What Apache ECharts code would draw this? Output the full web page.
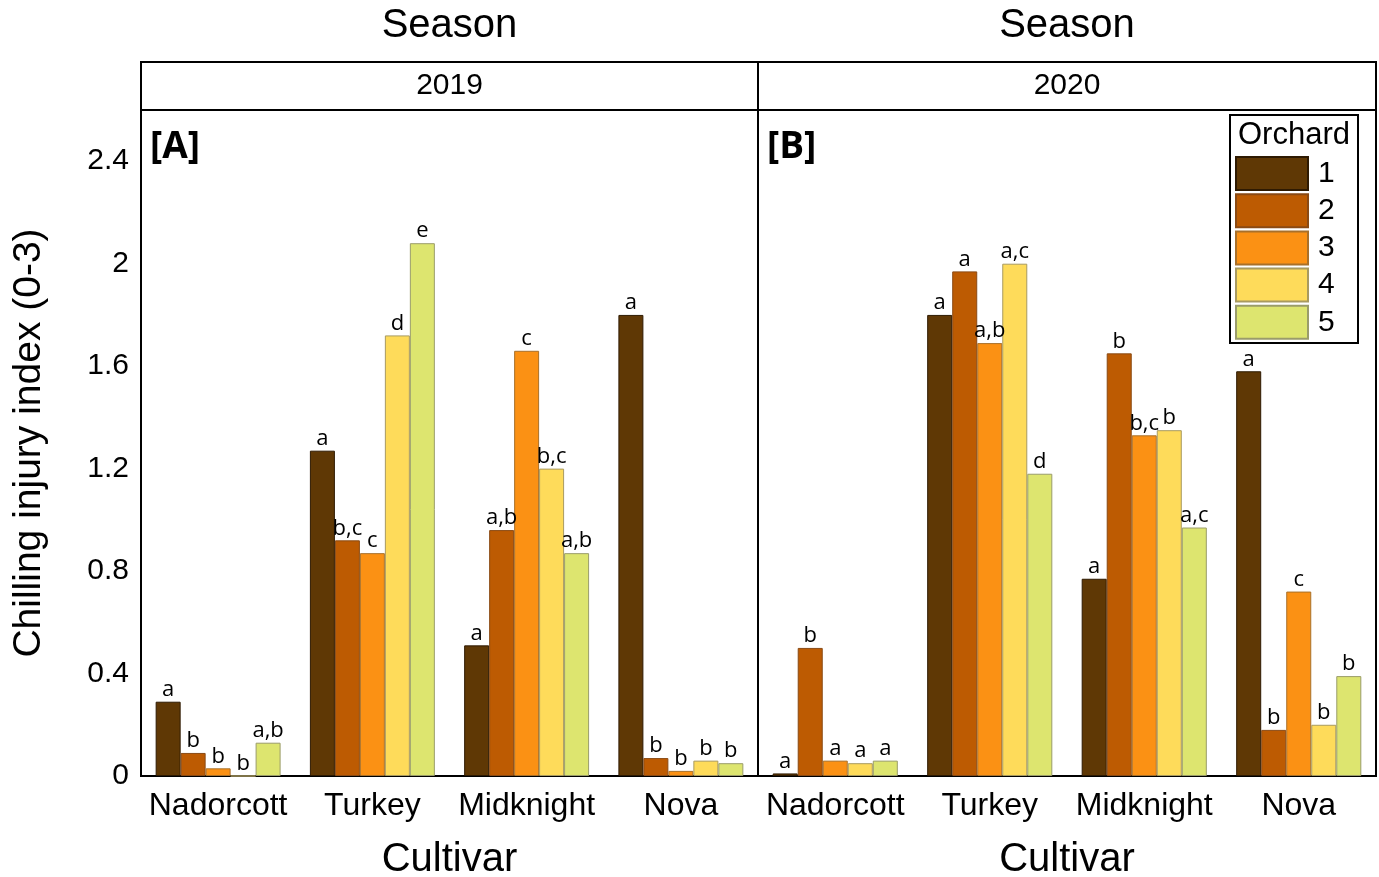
<!DOCTYPE html>
<html>
<head>
<meta charset="utf-8">
<script src="https://cdn.jsdelivr.net/npm/echarts@6/dist/echarts.min.js"></script>
<style>
  html, body { margin: 0; padding: 0; background: #fff; }
  #chart { width: 1379px; height: 877px; }
</style>
</head>
<body>
<div id="chart"></div>
<script>
// Categories
const cultivars = ['Nadorcott', 'Turkey', 'Midknight', 'Nova'];
const orchards = ['1', '2', '3', '4', '5'];
const seasons = ['2019', '2020'];
const panelTags = ['[A]', '[B]'];
const yTicks = [0, 0.4, 0.8, 1.2, 1.6, 2, 2.4];

// Chilling injury index per orchard (cultivar order as above) — season 2019
const ci2019_o1 = [0.29, 1.27, 0.51, 1.80];
const ci2019_o2 = [0.09, 0.92, 0.96, 0.07];
const ci2019_o3 = [0.03, 0.87, 1.66, 0.02];
const ci2019_o4 = [0.00, 1.72, 1.20, 0.06];
const ci2019_o5 = [0.13, 2.08, 0.87, 0.05];

// Season 2020
const ci2020_o1 = [0.01, 1.80, 0.77, 1.58];
const ci2020_o2 = [0.50, 1.97, 1.65, 0.18];
const ci2020_o3 = [0.06, 1.69, 1.33, 0.72];
const ci2020_o4 = [0.05, 2.00, 1.35, 0.20];
const ci2020_o5 = [0.06, 1.18, 0.97, 0.39];

// Significance letters above each bar
const sig2019_o1 = ['a', 'a', 'a', 'a'];
const sig2019_o2 = ['b', 'b,c', 'a,b', 'b'];
const sig2019_o3 = ['b', 'c', 'c', 'b'];
const sig2019_o4 = ['b', 'd', 'b,c', 'b'];
const sig2019_o5 = ['a,b', 'e', 'a,b', 'b'];

const sig2020_o1 = ['a', 'a', 'a', 'a'];
const sig2020_o2 = ['b', 'a', 'b', 'b'];
const sig2020_o3 = ['a', 'a,b', 'b,c', 'c'];
const sig2020_o4 = ['a', 'a,c', 'b', 'b'];
const sig2020_o5 = ['a', 'd', 'a,c', 'b'];

const values = [
  [ci2019_o1, ci2019_o2, ci2019_o3, ci2019_o4, ci2019_o5],
  [ci2020_o1, ci2020_o2, ci2020_o3, ci2020_o4, ci2020_o5]
];
const letters = [
  [sig2019_o1, sig2019_o2, sig2019_o3, sig2019_o4, sig2019_o5],
  [sig2020_o1, sig2020_o2, sig2020_o3, sig2020_o4, sig2020_o5]
];

const orchardColors = ['#5f3805', '#bd5b02', '#fb9114', '#fedb5a', '#dde56f'];
const orchardBorders = ['#2e1a02', '#8a4a14', '#a8702a', '#a89a60', '#9a9c6a'];

const sans = 'Liberation Sans, Arial, sans-serif';
const labelFont = 'Open Sans, sans-serif';

const grids = [
  { left: 141, top: 110, width: 617, height: 666 },
  { left: 758, top: 110, width: 618, height: 666 }
];

const chart = echarts.init(document.getElementById('chart'));

const xAxes = [];
const yAxes = [];
seasons.forEach((s, i) => {
  // main axis: labels and center ticks
  xAxes.push({
    type: 'category', gridIndex: i, position: 'bottom', data: cultivars,
    axisLine: { lineStyle: { color: '#000', width: 2 } },
    axisTick: { alignWithLabel: true, length: 9, lineStyle: { color: '#000', width: 2 } },
    axisLabel: { interval: 0, color: '#000', fontSize: 32, fontFamily: sans, margin: 14 },
    name: 'Cultivar', nameLocation: 'middle', nameGap: 64,
    nameTextStyle: { color: '#000', fontSize: 40, fontFamily: sans }
  });
});
seasons.forEach((s, i) => {
  // secondary axis: short ticks on category boundaries
  xAxes.push({
    type: 'category', gridIndex: i, position: 'bottom', data: cultivars,
    axisLine: { show: false },
    axisTick: { interval: 0, length: 5, lineStyle: { color: '#000', width: 2 } },
    axisLabel: { show: false }
  });
});
seasons.forEach((s, i) => {
  yAxes.push({
    type: 'value', gridIndex: i, min: 0, max: 2.6, interval: 0.4,
    splitLine: { show: false },
    axisTick: { show: false },
    axisLine: { show: i === 0, lineStyle: { color: '#000', width: 2 } },
    axisLabel: {
      show: i === 0, color: '#000', fontSize: 30, fontFamily: sans, margin: 12,
      showMaxLabel: false,
      formatter: v => (yTicks.some(t => Math.abs(t - v) < 1e-9) ? String(+v.toFixed(1)) : '')
    },
    name: i === 0 ? 'Chilling injury index (0-3)' : '',
    nameLocation: 'middle', nameGap: 92, nameRotate: 90,
    nameTextStyle: { color: '#000', fontSize: 39, fontFamily: sans }
  });
});

const series = [];
seasons.forEach((s, si) => {
  orchards.forEach((o, oi) => {
    const sig = letters[si][oi];
    series.push({
      type: 'bar', name: o, xAxisIndex: si, yAxisIndex: si,
      data: values[si][oi],
      barGap: '0%', barCategoryGap: '19%',
      itemStyle: { color: orchardColors[oi], borderColor: orchardBorders[oi], borderWidth: 1 },
      label: {
        show: true, position: 'top', distance: 1,
        formatter: p => sig[p.dataIndex],
        color: '#000', fontSize: 22, fontFamily: labelFont
      },
      emphasis: { disabled: true }
    });
  });
});

const graphic = [];
grids.forEach((g, i) => {
  const cx = g.left + g.width / 2;
  graphic.push({
    type: 'rect', z: 10,
    shape: { x: g.left, y: 62, width: g.width, height: 48 },
    style: { fill: '#fff', stroke: '#000', lineWidth: 2 }
  });
  graphic.push({
    type: 'text', z: 11, x: cx, y: 86,
    style: { text: seasons[i], fill: '#000', font: '30px ' + sans, align: 'center', verticalAlign: 'middle' }
  });
  graphic.push({
    type: 'text', z: 11, x: cx, y: 26,
    style: { text: 'Season', fill: '#000', font: '40px ' + sans, align: 'center', verticalAlign: 'middle' }
  });
  graphic.push({
    type: 'text', z: 11, x: g.left + 9, y: 147,
    style: { text: panelTags[i], fill: '#000', font: 'bold 37px ' + labelFont, align: 'left', verticalAlign: 'middle' }
  });
});
// legend frame and title
graphic.push({
  type: 'rect', z: 1,
  shape: { x: 1230, y: 115, width: 128, height: 228 },
  style: { fill: '#fff', stroke: '#000', lineWidth: 2 }
});
graphic.push({
  type: 'text', z: 11, x: 1294, y: 135,
  style: { text: 'Orchard', fill: '#000', font: '31px ' + sans, align: 'center', verticalAlign: 'middle' }
});

chart.setOption({
  animation: false,
  backgroundColor: '#fff',
  grid: grids.map(g => Object.assign({
    show: true, borderColor: '#000', borderWidth: 2, containLabel: false, outerBoundsMode: 'none'
  }, g)),
  xAxis: xAxes,
  yAxis: yAxes,
  legend: {
    data: orchards, orient: 'vertical', left: 1235, top: 156, padding: 0,
    itemWidth: 72, itemHeight: 33, itemGap: 2.2, icon: 'rect',
    selectedMode: false, z: 5,
    textStyle: { color: '#000', fontSize: 30, lineHeight: 33, fontFamily: sans, padding: [0, 0, 0, 5] }
  },
  graphic: graphic,
  series: series
});
</script>
</body>
</html>
